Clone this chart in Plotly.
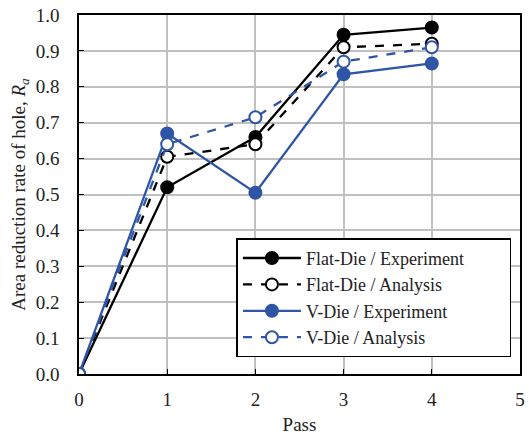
import plotly.graph_objects as go

passes = [0, 1, 2, 3, 4]
flat_exp = [0.0, 0.52, 0.66, 0.945, 0.965]
flat_ana = [0.0, 0.605, 0.64, 0.91, 0.92]
v_exp = [0.0, 0.67, 0.505, 0.835, 0.865]
v_ana = [0.0, 0.64, 0.715, 0.87, 0.91]
names = ["Flat-Die / Experiment", "Flat-Die / Analysis",
         "V-Die / Experiment", "V-Die / Analysis"]

BLUE = "#2f55a6"
FONT = "Liberation Serif"
TXT = "#222222"

fig = go.Figure()
styles = [
    ("black", "solid", "black"),
    ("black", "dash", "white"),
    (BLUE, "solid", BLUE),
    (BLUE, "dash", "white"),
]
for name, ys, (col, dash, fill) in zip(names, [flat_exp, flat_ana, v_exp, v_ana], styles):
    fig.add_trace(go.Scatter(
        x=passes, y=ys, name=name + "\u00a0" * 9, mode="lines+markers",
        line=dict(color=col, width=2.3, dash=dash),
        marker=dict(size=12, color=fill, line=dict(color=col, width=2)),
    ))

fig.update_layout(
    width=530, height=437,
    margin=dict(l=79, r=5, t=15, b=63),
    paper_bgcolor="white", plot_bgcolor="white",
    font=dict(family=FONT, size=19, color=TXT),
    showlegend=True,
    legend=dict(
        x=0.357, y=0.378, xanchor="left", yanchor="top",
        bgcolor="white", bordercolor="black", borderwidth=1.5,
        font=dict(family=FONT, size=18, color=TXT),
        itemwidth=58,
    ),
)
fig.update_xaxes(
    range=[0, 5], dtick=1, tick0=0,
    showgrid=True, gridcolor="#c0c0c0", gridwidth=1.5,
    showline=True, linecolor="black", linewidth=1.5, mirror=True,
    ticks="inside", ticklen=5, tickcolor="black",
    tickfont=dict(family=FONT, size=19, color=TXT),
    ticklabelstandoff=7,
    title=dict(text="Pass", font=dict(family=FONT, size=19, color=TXT), standoff=9),
    zeroline=False,
)
fig.update_yaxes(
    range=[0, 1.0], dtick=0.1, tick0=0, tickformat=".1f",
    showgrid=True, gridcolor="#c0c0c0", gridwidth=1.5,
    showline=True, linecolor="black", linewidth=1.5, mirror=True,
    ticks="inside", ticklen=5, tickcolor="black",
    tickfont=dict(family=FONT, size=19, color=TXT),
    ticklabelstandoff=14,
    title=dict(text="Area reduction rate of hole, <i>R<sub>a</sub></i>",
               font=dict(family=FONT, size=19, color=TXT), standoff=5),
    zeroline=False,
)
fig.write_html("out.html")
